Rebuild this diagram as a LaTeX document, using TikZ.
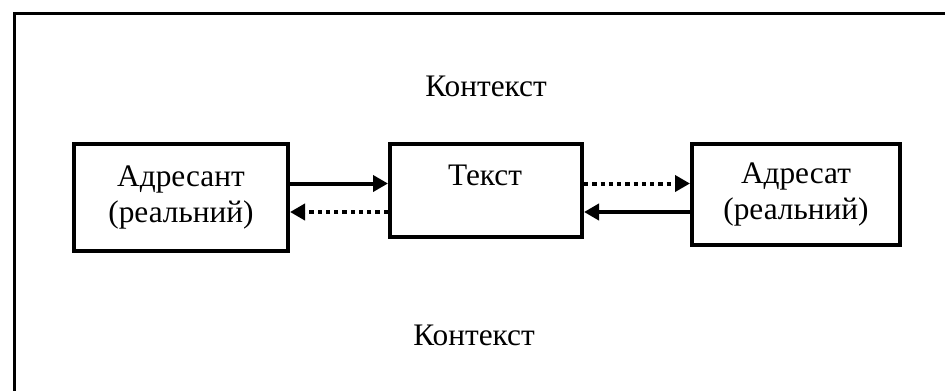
\documentclass[tikz,border=0pt]{standalone}
\usepackage{fontspec}
\setmainfont{Liberation Serif}
\usetikzlibrary{arrows.meta}
\begin{document}
\begin{tikzpicture}[x=0.75pt,y=-0.75pt,
  every node/.style={font=\fontsize{23.5}{26.5}\selectfont, inner sep=0pt},
  box/.style={draw, line width=3pt, rectangle, align=center},
  frameline/.style={line width=2.6pt, line join=miter},
  solidarrow/.style={line width=3pt, -{Triangle[length=11.25pt,width=12pt]}},
  dotarrow/.style={line width=3pt, dash pattern=on 3.2pt off 3pt, -{Triangle[length=11.25pt,width=12pt]}}]
  \useasboundingbox (0,0) rectangle (945,390);
  \clip (0,0) rectangle (945,390);

  % outer frame, running past the right and bottom edges
  \draw[frameline] (14.5,1000) -- (14.5,13.7) -- (1000,13.7);

  % context labels
  \node[anchor=base] (ctxtop) at (486,96) {Контекст};
  \node[anchor=base] (ctxbot) at (474,345) {Контекст};

  % the three boxes
  \node[box, minimum width=160.5pt, minimum height=80.25pt] (sender) at (181,197.5)
    {Адресант\\(реальний)};
  \node[box, minimum width=144pt, minimum height=69.75pt] (text) at (486,190.5) {};
  \node[anchor=base] (textlabel) at (485,185) {Текст};
  \node[box, minimum width=156pt, minimum height=75.75pt] (receiver) at (796,194.5)
    {Адресат\\(реальний)};

  % rows of the connectors
  \coordinate (rowA) at (0,183.5);
  \coordinate (rowB) at (0,212);

  \draw[solidarrow] (sender.east |- rowA) -- (text.west |- rowA);
  \draw[dotarrow] (text.west |- rowB) -- (sender.east |- rowB);
  \draw[dotarrow] (text.east |- rowA) -- (receiver.west |- rowA);
  \draw[solidarrow] (receiver.west |- rowB) -- (text.east |- rowB);
\end{tikzpicture}
\end{document}
